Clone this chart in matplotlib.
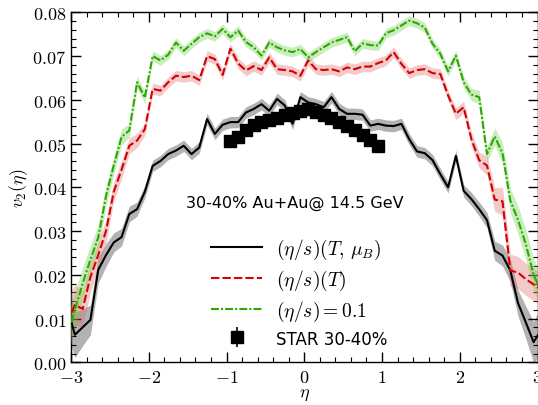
import matplotlib
matplotlib.use('Agg')
import matplotlib.pyplot as plt
from matplotlib.ticker import MultipleLocator, FuncFormatter
import numpy as np

plt.rcParams['mathtext.fontset'] = 'cm'
plt.rcParams['font.family'] = ['DejaVu Sans']

# pseudorapidity grid of the hydro curves
eta = [-3.05, -2.95, -2.85, -2.75, -2.65, -2.55, -2.45, -2.35, -2.25, -2.15, -2.05,
       -1.95, -1.85, -1.75, -1.65, -1.55, -1.45, -1.35, -1.25, -1.15, -1.05,
       -0.95, -0.85, -0.75, -0.65, -0.55, -0.45, -0.35, -0.25, -0.15, -0.05,
       0.05, 0.15, 0.25, 0.35, 0.45, 0.55, 0.65, 0.75, 0.85, 0.95,
       1.05, 1.15, 1.25, 1.35, 1.45, 1.55, 1.65, 1.75, 1.85, 1.95,
       2.05, 2.15, 2.25, 2.35, 2.45, 2.55, 2.65, 2.75, 2.85, 2.95, 3.05]

# (eta/s)(T, muB)
v2_tmu = [0.0127, 0.0063, 0.0080, 0.0097, 0.0211, 0.0245, 0.0274, 0.0286, 0.0339, 0.0350, 0.0390,
          0.0449, 0.0460, 0.0476, 0.0484, 0.0495, 0.0476, 0.0491, 0.0556, 0.0522, 0.0543,
          0.0549, 0.0549, 0.0571, 0.0579, 0.0590, 0.0575, 0.0602, 0.0587, 0.0545, 0.0606,
          0.0594, 0.0590, 0.0583, 0.0606, 0.0579, 0.0568, 0.0568, 0.0566, 0.0541, 0.0545,
          0.0541, 0.0540, 0.0545, 0.0510, 0.0482, 0.0478, 0.0462, 0.0430, 0.0400, 0.0472,
          0.0392, 0.0373, 0.0350, 0.0325, 0.0255, 0.0244, 0.0210, 0.0135, 0.0091, 0.0046, 0.0075]
err_tmu = [0.0062, 0.0052, 0.0042, 0.0034, 0.0030, 0.0026, 0.0022, 0.0020, 0.0018, 0.0016, 0.0014,
           0.0013, 0.0013, 0.0013, 0.0013, 0.0013, 0.0013, 0.0013, 0.0013, 0.0013, 0.0013,
           0.0013, 0.0013, 0.0013, 0.0013, 0.0013, 0.0013, 0.0013, 0.0013, 0.0013, 0.0013,
           0.0013, 0.0013, 0.0013, 0.0013, 0.0013, 0.0013, 0.0013, 0.0013, 0.0013, 0.0013,
           0.0013, 0.0013, 0.0013, 0.0013, 0.0013, 0.0013, 0.0013, 0.0013, 0.0013, 0.0013,
           0.0014, 0.0015, 0.0016, 0.0018, 0.0022, 0.0024, 0.0026, 0.0030, 0.0037, 0.0047, 0.0057]

# (eta/s)(T)
v2_t = [0.0090, 0.0131, 0.0122, 0.0195, 0.0245, 0.0300, 0.0390, 0.0440, 0.0495, 0.0507, 0.0533,
        0.0625, 0.0621, 0.0640, 0.0655, 0.0652, 0.0655, 0.0645, 0.0700, 0.0693, 0.0657,
        0.0717, 0.0683, 0.0667, 0.0677, 0.0668, 0.0697, 0.0670, 0.0668, 0.0665, 0.0655,
        0.0690, 0.0670, 0.0668, 0.0670, 0.0665, 0.0674, 0.0670, 0.0676, 0.0676, 0.0684,
        0.0690, 0.0709, 0.0682, 0.0661, 0.0668, 0.0670, 0.0661, 0.0659, 0.0610, 0.0568,
        0.0583, 0.0510, 0.0462, 0.0450, 0.0372, 0.0368, 0.0210, 0.0205, 0.0190, 0.0178, 0.0165]
err_t = [0.0052, 0.0047, 0.0042, 0.0034, 0.0030, 0.0026, 0.0022, 0.0020, 0.0018, 0.0016, 0.0014,
         0.0013, 0.0012, 0.0012, 0.0012, 0.0012, 0.0012, 0.0012, 0.0012, 0.0012, 0.0012,
         0.0012, 0.0012, 0.0012, 0.0012, 0.0012, 0.0012, 0.0012, 0.0012, 0.0012, 0.0012,
         0.0012, 0.0012, 0.0012, 0.0012, 0.0012, 0.0012, 0.0012, 0.0012, 0.0012, 0.0012,
         0.0012, 0.0012, 0.0012, 0.0012, 0.0012, 0.0012, 0.0012, 0.0012, 0.0012, 0.0013,
         0.0014, 0.0016, 0.0018, 0.0022, 0.0027, 0.0032, 0.0037, 0.0037, 0.0037, 0.0037, 0.0037]

# (eta/s) = 0.1
v2_const = [0.0060, 0.0120, 0.0180, 0.0235, 0.0285, 0.0380, 0.0450, 0.0515, 0.0530, 0.0640, 0.0605,
            0.0700, 0.0690, 0.0703, 0.0731, 0.0712, 0.0728, 0.0743, 0.0752, 0.0745, 0.0762,
            0.0743, 0.0758, 0.0732, 0.0720, 0.0701, 0.0731, 0.0720, 0.0713, 0.0709, 0.0716,
            0.0697, 0.0709, 0.0720, 0.0731, 0.0737, 0.0743, 0.0711, 0.0729, 0.0725, 0.0724,
            0.0752, 0.0759, 0.0770, 0.0781, 0.0775, 0.0765, 0.0728, 0.0705, 0.0665, 0.0701,
            0.0640, 0.0612, 0.0606, 0.0476, 0.0516, 0.0478, 0.0370, 0.0325, 0.0270, 0.0200, 0.0160]
err_const = [0.0047, 0.0042, 0.0037, 0.0032, 0.0028, 0.0024, 0.0020, 0.0018, 0.0016, 0.0014, 0.0013,
             0.0012, 0.0011, 0.0011, 0.0011, 0.0011, 0.0011, 0.0011, 0.0011, 0.0011, 0.0011,
             0.0011, 0.0011, 0.0011, 0.0011, 0.0011, 0.0011, 0.0011, 0.0011, 0.0011, 0.0011,
             0.0011, 0.0011, 0.0011, 0.0011, 0.0011, 0.0011, 0.0011, 0.0011, 0.0011, 0.0011,
             0.0011, 0.0011, 0.0011, 0.0011, 0.0011, 0.0011, 0.0011, 0.0011, 0.0011, 0.0012,
             0.0013, 0.0014, 0.0016, 0.0018, 0.0020, 0.0024, 0.0028, 0.0032, 0.0034, 0.0037, 0.0037]

# STAR 30-40% data
star_eta = [-0.95, -0.85, -0.75, -0.65, -0.55, -0.45, -0.35, -0.25, -0.15, -0.05,
            0.05, 0.15, 0.25, 0.35, 0.45, 0.55, 0.65, 0.75, 0.85, 0.95]
star_v2 = [0.0505, 0.0515, 0.0530, 0.0542, 0.0550, 0.0553, 0.0558, 0.0565, 0.0570, 0.0575,
           0.0578, 0.0572, 0.0565, 0.0558, 0.0550, 0.0540, 0.0530, 0.0520, 0.0508, 0.0495]
star_err = [0.0004, 0.0004, 0.0004, 0.0004, 0.0004, 0.0004, 0.0004, 0.0004, 0.0004, 0.0004,
            0.0004, 0.0004, 0.0004, 0.0004, 0.0004, 0.0004, 0.0004, 0.0004, 0.0004, 0.0004]

eta = np.array(eta)
curves = [
    (v2_tmu, err_tmu, 'black', 'black', dict(linestyle='-'), r'$(\eta/s)(T,\,\mu_B)$'),
    (v2_t, err_t, '#d60000', '#e06666', dict(dashes=(4.0, 1.5)), r'$(\eta/s)(T)$'),
    (v2_const, err_const, '#2ea800', '#66cc44', dict(dashes=(3.8, 1.0, 1.0, 1.0)), r'$(\eta/s)=0.1$'),
]

fig = plt.figure(figsize=(5.38, 4.06), dpi=100)
ax = fig.add_axes([71 / 538, 1 - 363.3 / 406, 466.5 / 538, 350 / 406])

star = ax.errorbar(star_eta, star_v2, yerr=star_err, fmt='s', color='black', ms=8.5,
                   elinewidth=1.2, capsize=0, zorder=2, label='STAR 30-40%')

handles = []
for vals, errs, col, bandcol, style, lab in curves:
    vals = np.array(vals)
    errs = np.array(errs)
    alpha = 0.35 if col != 'black' else 0.3
    ax.fill_between(eta, vals - errs, vals + errs, color=bandcol, alpha=alpha, lw=0, zorder=3)
    ln, = ax.plot(eta, vals, color=col, lw=1.5, zorder=4, label=lab, **style)
    handles.append(ln)
handles.append(star)

ax.set_xlim(-3, 3)
ax.set_ylim(0, 0.08)
ax.xaxis.set_major_locator(MultipleLocator(1))
ax.xaxis.set_minor_locator(MultipleLocator(0.2))
ax.yaxis.set_major_locator(MultipleLocator(0.01))
ax.yaxis.set_minor_locator(MultipleLocator(0.002))
ax.xaxis.set_major_formatter(FuncFormatter(lambda v, p: r'$%d$' % round(v)))
ax.yaxis.set_major_formatter(FuncFormatter(lambda v, p: r'$%.2f$' % v))
ax.tick_params(which='both', direction='in', top=True, right=True, labelsize=13)
ax.tick_params(which='major', length=7, width=1)
ax.tick_params(which='minor', length=3.5, width=0.8)
ax.tick_params(axis='x', pad=4)
for s in ax.spines.values():
    s.set_linewidth(1)

ax.set_xlabel(r'$\eta$', fontsize=13, labelpad=-1)
ax.set_ylabel(r'$v_2(\eta)$', fontsize=13, labelpad=2)

ax.text(0.48, 0.458, '30-40% Au+Au@ 14.5 GeV', transform=ax.transAxes,
        ha='center', va='center', fontsize=11.5)

leg = ax.legend(handles=handles, loc='center', bbox_to_anchor=(0.49, 0.2),
                frameon=False, fontsize=14, handlelength=2.6, handletextpad=0.75,
                labelspacing=0.36)
for t in leg.get_texts():
    if t.get_text().startswith('STAR'):
        t.set_fontsize(12)

fig.savefig('out.png', dpi=100)
